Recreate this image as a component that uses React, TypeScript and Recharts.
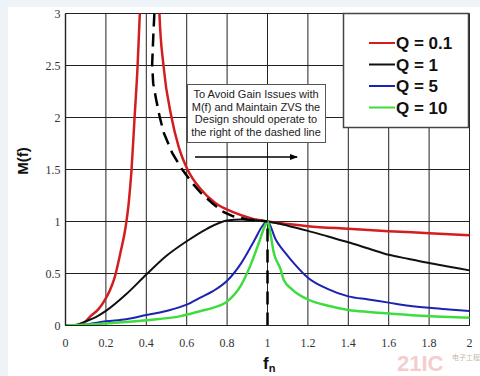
import { CartesianGrid, Line, LineChart, XAxis, YAxis } from "recharts"

const W = 480
const H = 376

// normalised frequency fn -> gain M(f)
const q01Fn = [0, 0.05, 0.07, 0.1, 0.124, 0.16, 0.19, 0.22, 0.24, 0.272, 0.297, 0.313, 0.327, 0.342, 0.357, 0.368, 0.39, 0.42, 0.445, 0.465, 0.485, 0.525, 0.56, 0.604, 0.67, 0.74, 0.83, 0.92, 1.0, 1.1, 1.2, 1.4, 1.6, 1.8, 2.0]
const q01M = [0, 0, 0.01, 0.04, 0.09, 0.15, 0.23, 0.34, 0.44, 0.7, 0.94, 1.18, 1.5, 2.0, 2.5, 3.0, 4.5, 6, 4.5, 3.0, 2.5, 2.0, 1.72, 1.5, 1.31, 1.18, 1.09, 1.03, 1.0, 0.975, 0.955, 0.93, 0.907, 0.888, 0.868]

const q1Fn = [0, 0.05, 0.1, 0.15, 0.2, 0.3, 0.4, 0.5, 0.6, 0.7, 0.8, 0.87, 0.95, 1.0, 1.1, 1.2, 1.3, 1.4, 1.5, 1.6, 1.7, 1.8, 1.9, 2.0]
const q1M = [0, 0.005, 0.04, 0.08, 0.14, 0.3, 0.49, 0.67, 0.81, 0.93, 1.01, 1.02, 1.01, 1.0, 0.96, 0.91, 0.855, 0.8, 0.74, 0.68, 0.64, 0.6, 0.565, 0.53]

const q5Fn = [0, 0.1, 0.2, 0.3, 0.4, 0.5, 0.6, 0.67, 0.73, 0.8, 0.87, 0.93, 0.98, 1.0, 1.04, 1.1, 1.13, 1.2, 1.3, 1.4, 1.5, 1.6, 1.7, 1.8, 1.9, 2.0]
const q5M = [0, 0.01, 0.04, 0.06, 0.1, 0.14, 0.2, 0.27, 0.33, 0.43, 0.6, 0.8, 0.97, 1.0, 0.83, 0.67, 0.6, 0.46, 0.35, 0.28, 0.25, 0.22, 0.19, 0.17, 0.155, 0.14]

const q10Fn = [0, 0.2, 0.4, 0.57, 0.67, 0.73, 0.8, 0.87, 0.92, 0.96, 0.99, 1.0, 1.015, 1.03, 1.065, 1.08, 1.12, 1.2, 1.3, 1.4, 1.5, 1.6, 1.7, 1.8, 1.9, 2.0]
const q10M = [0, 0.02, 0.05, 0.09, 0.14, 0.17, 0.23, 0.39, 0.6, 0.81, 0.97, 1.0, 0.88, 0.71, 0.54, 0.44, 0.35, 0.25, 0.19, 0.15, 0.13, 0.115, 0.1, 0.09, 0.082, 0.075]

// boundary of the peak-gain region (dashed)
const edgeFn = [0.44, 0.435, 0.429, 0.434, 0.449, 0.467, 0.487, 0.528, 0.578, 0.627, 0.668, 0.73, 0.784, 0.83, 0.9, 1.0]
const edgeM = [3.0, 2.8, 2.51, 2.33, 2.17, 2.0, 1.85, 1.66, 1.5, 1.37, 1.28, 1.17, 1.09, 1.05, 1.02, 1.0]
const resFn = [1, 1]
const resM = [0, 1]

const xTicks = [0, 0.2, 0.4, 0.6, 0.8, 1, 1.2, 1.4, 1.6, 1.8, 2]
const yTicks = [0, 0.5, 1, 1.5, 2, 2.5, 3]

const note = [
  "To Avoid Gain Issues with",
  "M(f) and Maintain ZVS the",
  "Design should operate to",
  "the right of the dashed line",
]

const zip = (fn: number[], m: number[]) => fn.map((f, i) => ({ fn: f, m: m[i] }))

const SERIES = [
  { name: "Q = 0.1", color: "#d21e1e", width: 2.5, data: zip(q01Fn, q01M) },
  { name: "Q = 1", color: "#111111", width: 2, data: zip(q1Fn, q1M) },
  { name: "Q = 5", color: "#1c22b4", width: 2, data: zip(q5Fn, q5M) },
  { name: "Q = 10", color: "#3fdc3f", width: 2.5, data: zip(q10Fn, q10M) },
]

const SERIF = "'Liberation Serif', 'DejaVu Serif', serif"
const SANS = "'Liberation Sans', Arial, sans-serif"
const GRID = "#222"

// serif tick labels, like the original plotting tool
function XTick({ x, y, payload }: any) {
  return (
    <text x={x} y={y + 13} textAnchor="middle" fontFamily={SERIF} fontSize={12} fill="#333">
      {payload.value}
    </text>
  )
}

function YTick({ x, y, payload }: any) {
  return (
    <text x={x} y={y + 4} textAnchor="end" fontFamily={SERIF} fontSize={12} fill="#333">
      {payload.value}
    </text>
  )
}

export default function App() {
  return (
    <div style={{ position: "absolute", left: 0, top: 0, width: W, height: H, background: "#eef3f8", overflow: "hidden" }}>
      <div style={{ position: "absolute", left: 8, top: 7, right: 0, bottom: 0, background: "#fff" }} />
      <div style={{ position: "absolute", left: 0, top: 0 }}>
        <LineChart width={W} height={H} margin={{ top: 13.5, right: 10.5, bottom: 20.5, left: 0.5 }}>
          <CartesianGrid
            stroke={GRID}
            strokeOpacity={1}
            horizontal={{ stroke: GRID, strokeWidth: 1 }}
            vertical={{ stroke: GRID, strokeWidth: 1.4 }}
          />
          <XAxis
            type="number"
            dataKey="fn"
            domain={[0, 2]}
            ticks={xTicks}
            tick={<XTick />}
            tickLine={false}
            axisLine={{ stroke: GRID, strokeWidth: 1 }}
            height={30}
          />
          <YAxis
            type="number"
            dataKey="m"
            domain={[0, 3]}
            allowDataOverflow
            ticks={yTicks}
            tick={<YTick />}
            tickLine={false}
            tickSize={5}
            tickMargin={0}
            axisLine={{ stroke: GRID, strokeWidth: 1.4 }}
            width={65}
          />
          {SERIES.map((s) => (
            <Line
              key={s.name}
              data={s.data}
              dataKey="m"
              type="monotone"
              stroke={s.color}
              strokeWidth={s.width}
              dot={false}
              activeDot={false}
              isAnimationActive={false}
            />
          ))}
          <Line
            data={zip(edgeFn, edgeM)}
            dataKey="m"
            type="linear"
            stroke="#000"
            strokeWidth={2.5}
            strokeDasharray="13 7"
            dot={false}
            activeDot={false}
            isAnimationActive={false}
          />
          <Line
            data={zip(resFn, resM)}
            dataKey="m"
            type="linear"
            stroke="#000"
            strokeWidth={2.5}
            strokeDasharray="13 8"
            dot={false}
            activeDot={false}
            isAnimationActive={false}
          />
        </LineChart>
      </div>
      <svg width={W} height={H} style={{ position: "absolute", left: 0, top: 0, pointerEvents: "none" }}>
        <defs>
          <marker id="arrowHead" markerWidth="8" markerHeight="6" refX="7" refY="3" orient="auto" markerUnits="userSpaceOnUse">
            <path d="M0,0 L8,3 L0,6 z" fill="#000" />
          </marker>
        </defs>
        {/* annotation */}
        <rect x={187.5} y={84.5} width={138} height={58} fill="#fff" stroke="#555" />
        {note.map((t, i) => (
          <text key={t} x={256} y={98 + i * 12.6} textAnchor="middle" fontFamily={SANS} fontSize={11} fill="#222">
            {t}
          </text>
        ))}
        <line x1={195} y1={157} x2={297} y2={157} stroke="#000" strokeWidth={1.5} markerEnd="url(#arrowHead)" />

        {/* legend */}
        <rect x={343.5} y={13.5} width={125} height={114} fill="#fff" stroke="#444" strokeWidth={1.5} />
        {SERIES.map((s, i) => (
          <g key={s.name}>
            <line x1={369} y1={43 + i * 21.5} x2={395} y2={43 + i * 21.5} stroke={s.color} strokeWidth={2} />
            <text x={396} y={49 + i * 21.5} fontFamily={SANS} fontWeight="bold" fontSize={17} fill="#111">
              {s.name}
            </text>
          </g>
        ))}

        {/* axis titles */}
        <text x={28} y={161} transform="rotate(-90 28 161)" textAnchor="middle" fontFamily={SANS} fontWeight="bold" fontSize={15} fill="#111">
          M(f)
        </text>
        <text x={263} y={369} fontFamily={SANS} fontWeight="bold" fontSize={17} fill="#111">
          f<tspan fontSize={11} dy={3}>n</tspan>
        </text>

        {/* watermark */}
        <text x={397} y={371} fontFamily={SANS} fontWeight="bold" fontSize={22} fill="#f2c2c2" opacity={0.8}>
          21IC
        </text>
        <text x={452} y={360} fontFamily="'Noto Sans CJK SC', sans-serif" fontSize={7} fill="#b9a98c" opacity={0.8}>
          电子工程
        </text>
      </svg>
    </div>
  )
}
